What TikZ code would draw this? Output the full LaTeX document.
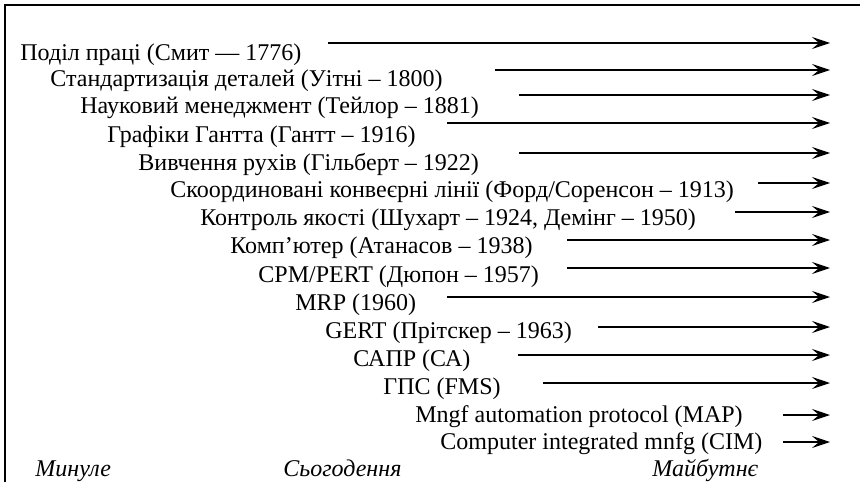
\documentclass[tikz,border=0pt]{standalone}
\usepackage{fontspec}
\setmainfont{Liberation Serif}
\usetikzlibrary{arrows.meta}

\begin{document}
\begin{tikzpicture}[
  x=0.5pt, y=-0.5pt,
  lbl/.style={anchor=base west, inner sep=0pt, font=\fontsize{12}{14}\selectfont},
  era/.style={lbl, font=\fontsize{12}{14}\selectfont\itshape},
  trend/.style={-{Stealth[length=9pt, width=6pt, inset=3.5pt]}, line width=0.75pt},
  frame/.style={line width=1.4pt},
]
\useasboundingbox (0,0) rectangle (860,482);

%% Frame (top and left edges only)
\coordinate (fb) at (5,482);
\coordinate (fc) at (5,5);
\coordinate (fr) at (860,5);
\draw[frame] (fb) -- (fc) -- (fr);

%% Milestones
\node[lbl] (smith) at (20,60) {Поділ праці (Смит — 1776)};
\path (328,43) coordinate (smith-s) (830,43) coordinate (smith-e);
\draw[trend] (smith-s) -- (smith-e);

\node[lbl] (whitney) at (50,86) {Стандартизація деталей (Уітні – 1800)};
\path (495,70) coordinate (whitney-s) (830,70) coordinate (whitney-e);
\draw[trend] (whitney-s) -- (whitney-e);

\node[lbl] (taylor) at (80,113) {Науковий менеджмент (Тейлор – 1881)};
\path (519,95) coordinate (taylor-s) (830,95) coordinate (taylor-e);
\draw[trend] (taylor-s) -- (taylor-e);

\node[lbl] (gantt) at (107,142) {Графіки Гантта (Гантт – 1916)};
\path (447,123) coordinate (gantt-s) (830,123) coordinate (gantt-e);
\draw[trend] (gantt-s) -- (gantt-e);

\node[lbl] (gilbreth) at (138,170) {Вивчення рухів (Гільберт – 1922)};
\path (519,153) coordinate (gilbreth-s) (830,153) coordinate (gilbreth-e);
\draw[trend] (gilbreth-s) -- (gilbreth-e);

\node[lbl] (ford) at (170,197) {Скоординовані конвеєрні лінії (Форд/Соренсон – 1913)};
\path (758,183) coordinate (ford-s) (830,183) coordinate (ford-e);
\draw[trend] (ford-s) -- (ford-e);

\node[lbl] (quality) at (200,225) {Контроль якості (Шухарт – 1924, Демінг – 1950)};
\path (735,212) coordinate (quality-s) (830,212) coordinate (quality-e);
\draw[trend] (quality-s) -- (quality-e);

\node[lbl] (computer) at (230,253) {Комп’ютер (Атанасов – 1938)};
\path (567,240) coordinate (computer-s) (830,240) coordinate (computer-e);
\draw[trend] (computer-s) -- (computer-e);

\node[lbl] (cpm) at (258,282) {CPM/PERT (Дюпон – 1957)};
\path (567,268) coordinate (cpm-s) (830,268) coordinate (cpm-e);
\draw[trend] (cpm-s) -- (cpm-e);

\node[lbl] (mrp) at (295,310) {MRP (1960)};
\path (447,297) coordinate (mrp-s) (830,297) coordinate (mrp-e);
\draw[trend] (mrp-s) -- (mrp-e);

\node[lbl] (gert) at (325,338) {GERT (Прітскер – 1963)};
\path (598,327) coordinate (gert-s) (830,327) coordinate (gert-e);
\draw[trend] (gert-s) -- (gert-e);

\node[lbl] (cad) at (353,366) {САПР (СА)};
\path (518,355) coordinate (cad-s) (830,355) coordinate (cad-e);
\draw[trend] (cad-s) -- (cad-e);

\node[lbl] (fms) at (383,394) {ГПС (FMS)};
\path (543,383) coordinate (fms-s) (830,383) coordinate (fms-e);
\draw[trend] (fms-s) -- (fms-e);

\node[lbl] (map) at (415,422) {Mngf automation protocol (MAP)};
\path (783,415) coordinate (map-s) (830,415) coordinate (map-e);
\draw[trend] (map-s) -- (map-e);

\node[lbl] (cim) at (440,449) {Computer integrated mnfg (CIM)};
\path (783,442) coordinate (cim-s) (830,442) coordinate (cim-e);
\draw[trend] (cim-s) -- (cim-e);

%% Time axis captions
\node[era] (past)    at (35,476)  {Минуле};
\node[era] (present) at (283,476) {Сьогодення};
\node[era] (future)  at (652,476) {Майбутнє};
\end{tikzpicture}
\end{document}
